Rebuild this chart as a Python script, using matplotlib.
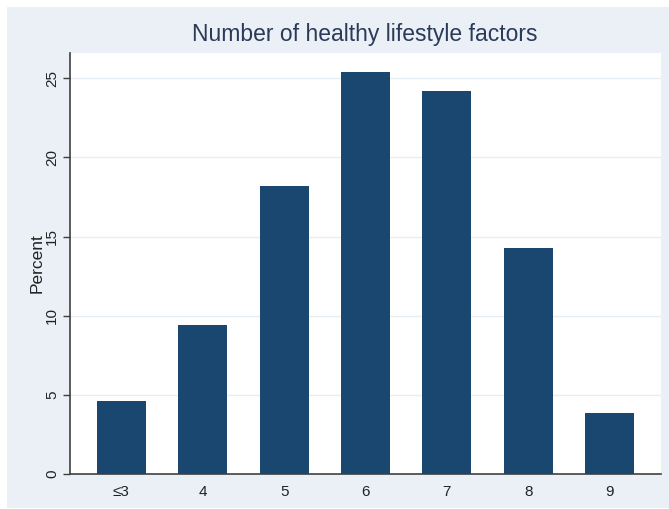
import matplotlib
matplotlib.use("Agg")
import matplotlib.pyplot as plt
from matplotlib.patches import Rectangle

categories = ["≤3", "4", "5", "6", "7", "8", "9"]
percent = [4.6, 9.4, 18.2, 25.4, 24.2, 14.3, 3.85]
y_ticks = [0, 5, 10, 15, 20, 25]
title = "Number of healthy lifestyle factors"

bg = "#EAF0F6"
bar_color = "#1A476F"
text_color = "#2A3A58"

plt.rcParams["font.family"] = ["Liberation Sans", "DejaVu Sans"]

fig = plt.figure(figsize=(6.69, 5.09), dpi=100)
fig.patch.set_facecolor("white")
W, H = 669, 509
fig.patches.append(Rectangle((7 / W, 1 / H), 1 - 7 / W, (508 - 7) / H,
                             transform=fig.transFigure, facecolor=bg,
                             edgecolor="none", zorder=-10))

ax = fig.add_axes([70 / W, 1 - 474 / H, (661 - 70) / W, (474 - 53) / H])
ax.set_facecolor("white")
x = list(range(len(categories)))
ax.bar(x, percent, width=0.6, color=bar_color, zorder=3)
ax.set_xlim(-0.63, len(categories) - 1 + 0.63)
ax.set_ylim(0, 26.6)
ax.set_yticks(y_ticks)
ax.set_yticklabels([str(v) for v in y_ticks], rotation=90, va="center")
ax.set_xticks(x)
ax.set_xticklabels(categories)
ax.grid(axis="y", color="#E6EDF3", linewidth=1, zorder=0)
ax.tick_params(axis="y", length=5, width=1, color="#404040", labelsize=11,
               labelcolor="#222222", pad=3)
ax.tick_params(axis="x", length=0, labelsize=11, labelcolor="#222222", pad=8)
for s in ["top", "right"]:
    ax.spines[s].set_visible(False)
for s in ["left", "bottom"]:
    ax.spines[s].set_color("#404040")
    ax.spines[s].set_linewidth(1.2)
ax.set_ylabel("Percent", fontsize=12.5, color="#222222", labelpad=0)
fig.text((187 + 543) / 2 / W, 1 - 35 / H, title, ha="center", va="center",
         fontsize=16.5, color=text_color)

fig.savefig("out.png", dpi=100, facecolor=fig.get_facecolor())
